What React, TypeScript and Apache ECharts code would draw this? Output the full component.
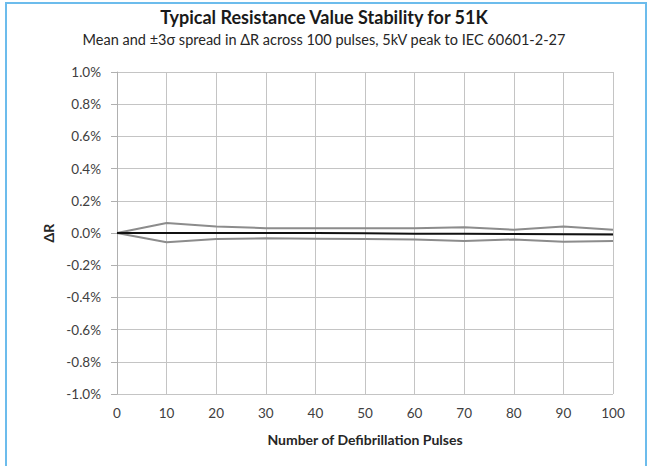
import React, { useEffect, useRef } from "react";
import * as echarts from "echarts";

const pulses = [0, 10, 20, 30, 40, 50, 60, 70, 80, 90, 100];
const meanDR = [0, 0, 0, 0, 0, -0.002, -0.004, -0.005, -0.006, -0.008, -0.01];
const upperDR = [0, 0.062, 0.04, 0.03, 0.03, 0.03, 0.03, 0.035, 0.02, 0.04, 0.02];
const lowerDR = [0, -0.058, -0.037, -0.033, -0.035, -0.037, -0.04, -0.05, -0.04, -0.054, -0.05];

const titleText = "Typical Resistance Value Stability for 51K";
const subtitleText = "Mean and ±3σ spread in ΔR across 100 pulses, 5kV peak to IEC 60601-2-27";
const xName = "Number of Defibrillation Pulses";
const yName = "ΔR";

const FONT = "Lato, 'Noto Sans', sans-serif";

export default function App() {
  const ref = useRef<HTMLDivElement>(null);
  useEffect(() => {
    document.body.style.margin = "0";
    if (!ref.current) return;
    const chart = echarts.init(ref.current, null, { renderer: "svg" });
    const pair = (ys: number[]) => pulses.map((x, i) => [x, ys[i]]);
    chart.setOption({
      animation: false,
      backgroundColor: "#ffffff",
      textStyle: { fontFamily: FONT },
      title: {
        text: titleText,
        subtext: subtitleText,
        left: "center",
        top: 3,
        itemGap: 6,
        textStyle: { fontFamily: FONT, fontSize: 18, fontWeight: "bold", color: "#1a1a1a" },
        subtextStyle: { fontFamily: FONT, fontSize: 14.5, color: "#262626" },
      },
      graphic: [
        {
          type: "rect",
          shape: { x: 6, y: 3, width: 640, height: 480 },
          style: { fill: "none", stroke: "#6cbcec", lineWidth: 2 },
          silent: true,
          z: 100,
        },
      ],
      grid: { left: 117, right: 35, top: 72, bottom: 72 },
      xAxis: {
        type: "value",
        min: 0,
        max: 100,
        interval: 10,
        name: xName,
        nameLocation: "middle",
        nameGap: 38,
        nameTextStyle: { fontFamily: FONT, fontSize: 14, fontWeight: "bold", color: "#262626" },
        axisLine: { show: false },
        axisTick: { show: false },
        axisLabel: { margin: 12, fontSize: 13.5, color: "#404040", fontFamily: FONT },
        splitLine: { show: true, lineStyle: { color: "#c4c4c4", width: 1 } },
      },
      yAxis: {
        type: "value",
        min: -1,
        max: 1,
        interval: 0.2,
        name: yName,
        nameLocation: "middle",
        nameRotate: 90,
        nameGap: 58,
        nameTextStyle: { fontFamily: FONT, fontSize: 14, fontWeight: "bold", color: "#262626" },
        axisLine: { show: true, lineStyle: { color: "#b0b0b0" } },
        axisTick: { show: true, inside: false, length: 6, lineStyle: { color: "#b0b0b0" } },
        axisLabel: {
          margin: 16,
          fontSize: 13.5,
          color: "#404040",
          fontFamily: FONT,
          formatter: (v: number) => v.toFixed(1) + "%",
        },
        splitLine: { show: true, lineStyle: { color: "#c4c4c4", width: 1 } },
      },
      series: [
        {
          name: "+3σ",
          type: "line",
          data: pair(upperDR),
          symbol: "none",
          lineStyle: { color: "#8c8c8c", width: 2 },
          z: 2,
        },
        {
          name: "-3σ",
          type: "line",
          data: pair(lowerDR),
          symbol: "none",
          lineStyle: { color: "#8c8c8c", width: 2 },
          z: 2,
        },
        {
          name: "Mean",
          type: "line",
          data: pair(meanDR),
          symbol: "none",
          lineStyle: { color: "#111111", width: 2 },
          z: 3,
        },
      ],
    });
    return () => chart.dispose();
  }, []);
  return <div ref={ref} style={{ width: 648, height: 466 }} />;
}
